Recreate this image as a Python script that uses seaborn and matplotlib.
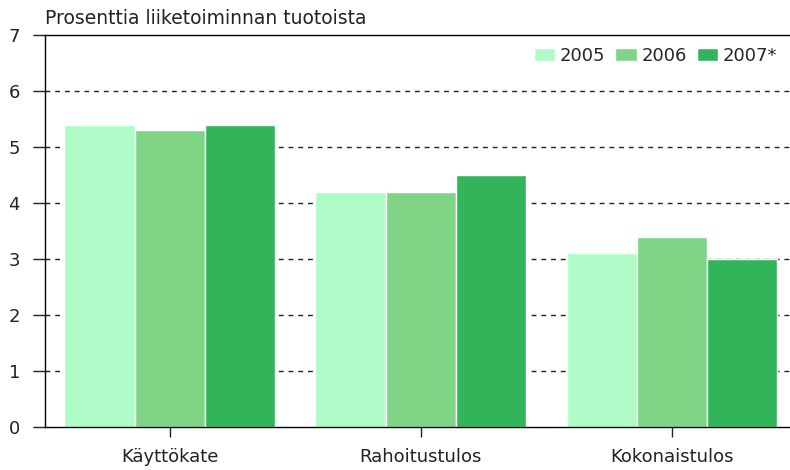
import pandas as pd
import matplotlib.pyplot as plt
import seaborn as sns

# Data
categories = ['Käyttökate', 'Rahoitustulos', 'Kokonaistulos']
years = ['2005', '2006', '2007*']
values_2005 = [5.4, 4.2, 3.1]
values_2006 = [5.3, 4.2, 3.4]
values_2007 = [5.4, 4.5, 3.0]
colors = ['#b0fcc8', '#80d486', '#32b45a']

df = pd.DataFrame({
    'kategoria': categories * 3,
    'vuosi': [years[0]] * 3 + [years[1]] * 3 + [years[2]] * 3,
    'arvo': values_2005 + values_2006 + values_2007,
})

sns.set_style('white')
plt.rcParams['font.family'] = ['DejaVu Sans']

fig = plt.figure(figsize=(7.9, 4.7), dpi=100)
ax = fig.add_axes([45 / 790, 1 - 427 / 470, 745 / 790, 392 / 470])

sns.barplot(
    data=df, x='kategoria', y='arvo', hue='vuosi',
    palette=colors, width=0.84, edgecolor='white', linewidth=1,
    saturation=1, ax=ax, zorder=2
)

ax.set_ylim(0, 7)
ax.set_xlim(-0.497, 2.47)
ax.set_yticks(range(0, 8))

# Katkoviivat
for y in range(1, 7):
    ax.axhline(y, color='#222222', linestyle=(0, (3.5, 3.5)), linewidth=1, zorder=1)

ax.spines['right'].set_visible(False)
for s in ['left', 'top', 'bottom']:
    ax.spines[s].set_color('black')
    ax.spines[s].set_linewidth(1)

ax.tick_params(axis='y', direction='out', length=9, width=1, pad=9,
               labelsize=13, colors='#222222', left=True)
ax.tick_params(axis='x', direction='out', length=7, width=1, pad=8,
               labelsize=13, colors='#222222', bottom=True)
ax.set_xlabel('')
ax.set_ylabel('')

ax.legend(loc='upper right', bbox_to_anchor=(1.005, 1.012), ncol=3, frameon=False,
          fontsize=13, handlelength=1.2, handleheight=0.7, handletextpad=0.25,
          columnspacing=0.55, title=None)

fig.text(45 / 790, 1 - 18 / 470, 'Prosenttia liiketoiminnan tuotoista',
         fontsize=13.5, va='center', ha='left', color='#222222')

fig.savefig('out.png', dpi=100)
